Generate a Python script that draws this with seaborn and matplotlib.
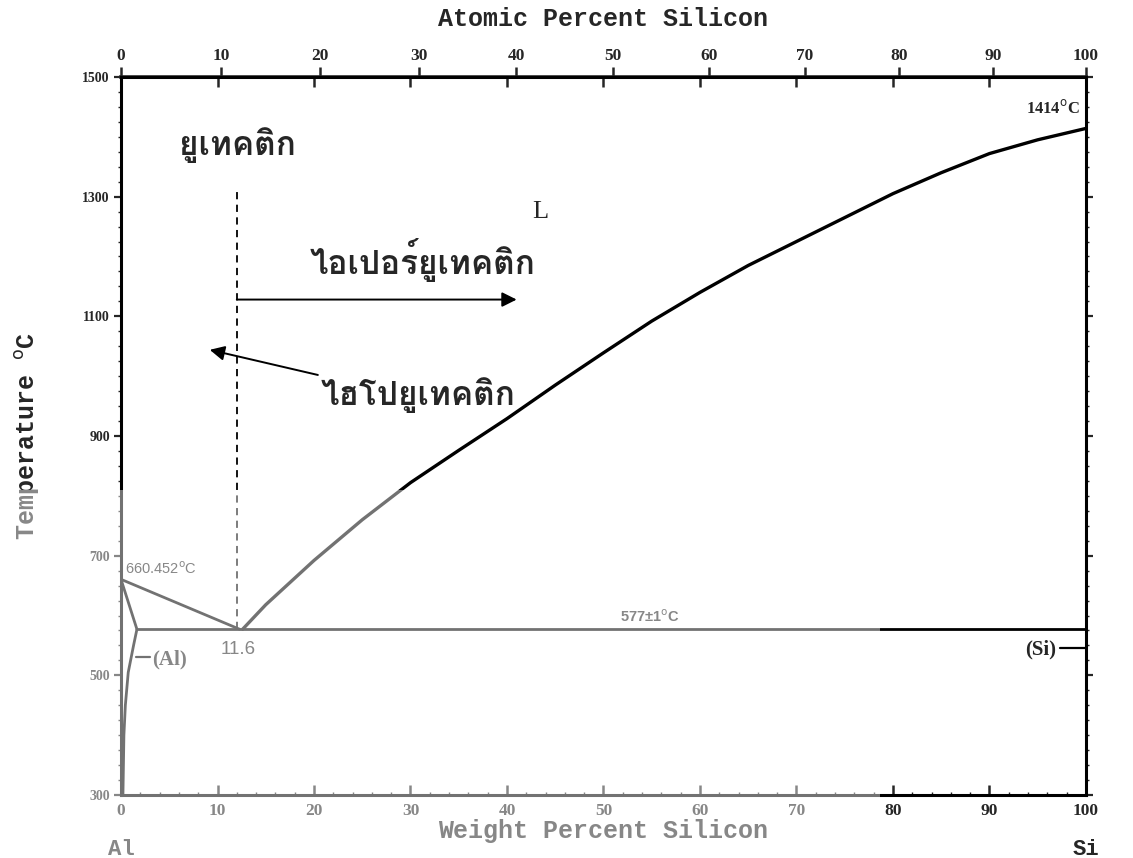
import numpy as np
import pandas as pd
import matplotlib
matplotlib.use("Agg")
import matplotlib.pyplot as plt
from matplotlib import font_manager
from matplotlib.patches import Polygon
import seaborn as sns

# --- Al-Si phase diagram data (weight % Si, temperature in deg C) ---
liq_al_wt = [0.0, 12.3]
liq_al_T = [660.452, 577.0]

liq_si_wt = [12.6, 15, 20, 25, 30, 35, 40, 45, 50, 55, 60, 65, 70, 75, 80, 85, 90, 95, 100]
liq_si_T = [577, 618, 692, 760, 822, 876, 929, 985, 1039, 1092, 1140, 1185, 1225, 1265,
            1305, 1340, 1372, 1395, 1414]

solidus_wt = [0.0, 1.65]
solidus_T = [660.452, 577.0]

solvus_wt = [1.65, 1.3, 0.75, 0.45, 0.3, 0.2]
solvus_T = [577, 550, 505, 450, 400, 300]

eutectic_wt = [1.65, 100.0]
eutectic_T = [577.0, 577.0]

eut_comp_wt = [12.0, 12.0]
eut_comp_T = [577.0, 1316.0]

hyper_arrow_wt = [12.0, 41.0]
hyper_arrow_T = [1128.0, 1128.0]
hypo_arrow_wt = [20.4, 9.2]
hypo_arrow_T = [1002.0, 1044.0]

al_leader_wt = [1.6, 3.0]
al_leader_T = [531.0, 531.0]
si_leader_wt = [97.3, 100.0]
si_leader_T = [545.0, 545.0]

wt_ticks = [0, 10, 20, 30, 40, 50, 60, 70, 80, 90, 100]
at_ticks = [0, 10, 20, 30, 40, 50, 60, 70, 80, 90, 100]
temp_ticks = [300, 500, 700, 900, 1100, 1300, 1500]

M_AL, M_SI = 26.9815, 28.0855


def wt_to_at(w):
    w = np.clip(np.asarray(w, dtype=float), 0, 100)
    n_si = w / M_SI
    n_al = (100 - w) / M_AL
    return 100 * n_si / np.maximum(n_si + n_al, 1e-12)


def at_to_wt(a):
    a = np.clip(np.asarray(a, dtype=float), 0, 100)
    m_si = a * M_SI
    m_al = (100 - a) * M_AL
    return 100 * m_si / np.maximum(m_si + m_al, 1e-12)


def find_thai_family():
    try:
        from fontTools.ttLib import TTFont
    except Exception:
        return None
    for f in font_manager.fontManager.ttflist:
        try:
            cmap = TTFont(f.fname, fontNumber=0, lazy=True).getBestCmap()
        except Exception:
            continue
        if cmap and 0x0E01 in cmap and 0x0E34 in cmap:
            return f.name
    return None


sns.set_style("white")
plt.rcParams["font.family"] = ["Liberation Serif", "DejaVu Serif"]
thai = find_thai_family()
thai_fam = [thai, "DejaVu Sans"] if thai else ["DejaVu Sans"]
mono = ["Liberation Mono", "DejaVu Sans Mono"]

fig = plt.figure(figsize=(11.33, 8.58), dpi=100)
ax = fig.add_axes([0.1068, 0.0734, 0.8517, 0.8369])


def curve(wt, T, **kw):
    df = pd.DataFrame({"wt": wt, "T": T})
    sns.lineplot(data=df, x="wt", y="T", sort=False, estimator=None, ax=ax,
                 color="black", **kw)


curve(liq_al_wt, liq_al_T, linewidth=2.0)
curve(liq_si_wt, liq_si_T, linewidth=2.4)
curve(solidus_wt, solidus_T, linewidth=2.0)
curve(solvus_wt, solvus_T, linewidth=2.0)
curve(eutectic_wt, eutectic_T, linewidth=2.0)
curve(eut_comp_wt, eut_comp_T, linewidth=1.3, linestyle=(0, (4, 3)))
curve(al_leader_wt, al_leader_T, linewidth=1.6)
curve(si_leader_wt, si_leader_T, linewidth=1.6)

arrow_kw = dict(arrowstyle="-|>", color="black", lw=1.4, mutation_scale=22,
                shrinkA=0, shrinkB=0)
ax.annotate("", xy=(hyper_arrow_wt[1], hyper_arrow_T[1]),
            xytext=(hyper_arrow_wt[0], hyper_arrow_T[0]), arrowprops=arrow_kw)
ax.annotate("", xy=(hypo_arrow_wt[1], hypo_arrow_T[1]),
            xytext=(hypo_arrow_wt[0], hypo_arrow_T[0]), arrowprops=arrow_kw)

ax.set_xlim(0, 100)
ax.set_ylim(300, 1500)

for side in ["left", "right", "bottom", "top"]:
    ax.spines[side].set_visible(True)
    ax.spines[side].set_color("black")
    ax.spines[side].set_linewidth(2.2)

ax.set_xticks(wt_ticks)
ax.set_xticks(np.arange(0, 101, 2), minor=True)
ax.set_yticks(temp_ticks)
ax.set_yticks(np.arange(300, 1501, 25), minor=True)
ax.tick_params(axis="x", which="major", direction="in", length=7, width=1.8,
               top=True, bottom=True, labelsize=12.5, pad=6)
ax.tick_params(axis="x", which="minor", direction="in", length=2.5, width=1.0,
               top=False, bottom=True)
ax.tick_params(axis="y", which="major", direction="out", length=5, width=1.6,
               left=True, right=True, labelsize=10, pad=3)
ax.tick_params(axis="y", which="minor", direction="out", length=2, width=1.0,
               left=True, right=True)
for lab in ax.get_xticklabels() + ax.get_yticklabels():
    lab.set_fontweight("bold")

ax.set_xlabel("Weight Percent Silicon", fontsize=18, family=mono, fontweight="bold",
              labelpad=0)
ax.set_ylabel("Temperature $^{\\mathrm{o}}$C", fontsize=18, family=mono, fontweight="bold")
ax.yaxis.set_label_coords(-0.082, 0.5)

top = ax.secondary_xaxis("top", functions=(wt_to_at, at_to_wt))
top.set_xticks(at_ticks)
top.tick_params(direction="out", length=7, width=1.8, labelsize=12.5, pad=2)
for lab in top.get_xticklabels():
    lab.set_fontweight("bold")
top.spines["top"].set_linewidth(2.6)
top.set_xlabel("Atomic Percent Silicon", fontsize=18, family=mono, fontweight="bold",
               labelpad=16)

# element names under the composition ends
xt = ax.get_xaxis_transform()
ax.text(0, -0.076, "Al", transform=xt, ha="center", va="center", fontsize=16,
        family=mono, fontweight="bold")
ax.text(100, -0.076, "Si", transform=xt, ha="center", va="center", fontsize=16,
        family=mono, fontweight="bold")

# point labels
ax.text(0.4, 664, "660.452$^{\\mathrm{o}}$C", fontsize=10.5, ha="left", va="bottom",
        family=["Liberation Sans"])
ax.text(54.8, 598, "577±1$^{\\mathrm{o}}$C", fontsize=10.5, ha="center", va="center",
        family=["Liberation Sans"], fontweight="bold")
ax.text(12.1, 543, "11.6", fontsize=13.5, ha="center", va="center",
        family=["Liberation Sans"])
ax.text(3.2, 527, "(Al)", fontsize=15, ha="left", va="center", fontweight="bold")
ax.text(96.9, 543, "(Si)", fontsize=15, ha="right", va="center", fontweight="bold")
ax.text(99.3, 1448, "1414$^{\\mathrm{o}}$C", fontsize=12, ha="right", va="center",
        fontweight="bold")
ax.text(43.5, 1275, "L", fontsize=19, ha="center", va="center")

# Thai region names
ax.text(12.1, 1386, "ยูเทคติก", fontsize=24, ha="center", va="center", family=thai_fam,
        fontweight="bold")
ax.text(31.3, 1194, "ไอเปอร์ยูเทคติก", fontsize=24, ha="center", va="center",
        family=thai_fam, fontweight="bold")
ax.text(30.8, 969, "ไฮโปยูเทคติก", fontsize=24, ha="center", va="center",
        family=thai_fam, fontweight="bold")

# faded lower-left band of the printed page
fade = Polygon([(0, 0), (880 / 1133, 0), (880 / 1133, 1 - 490 / 858), (0, 1 - 490 / 858)],
               closed=True, transform=fig.transFigure, facecolor="white",
               edgecolor="none", alpha=0.45, zorder=10)
fig.add_artist(fade)

fig.savefig("out.png", dpi=100, facecolor="white")
